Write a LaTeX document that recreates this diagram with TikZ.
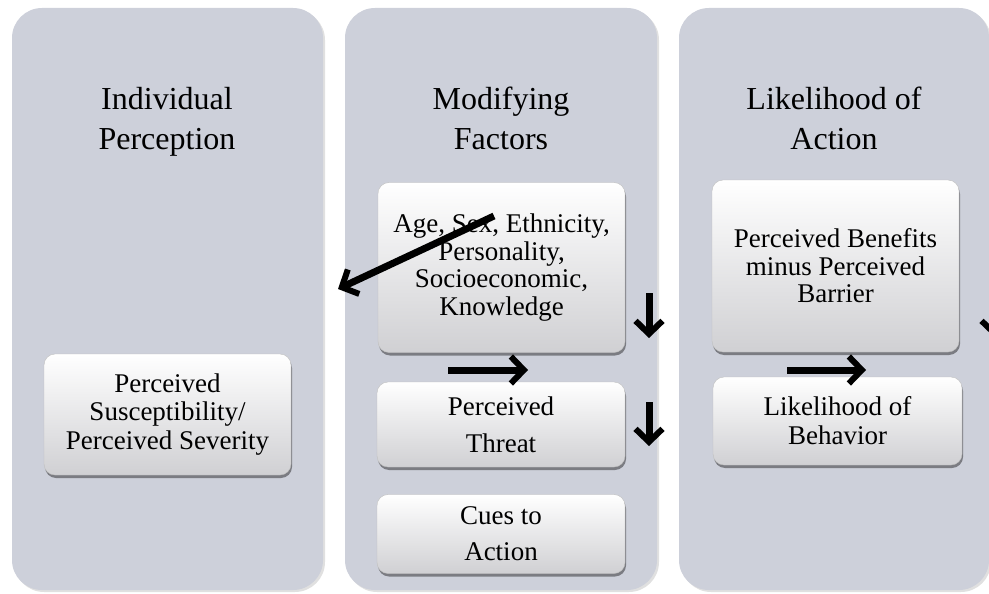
\documentclass[tikz,border=0pt]{standalone}
\usepackage{fontspec}
\setmainfont{Liberation Serif}
\usetikzlibrary{arrows.meta,shadows}
\definecolor{panelc}{HTML}{CDD0DA}
\definecolor{boxbot}{HTML}{D0D0D3}
\begin{document}
\begin{tikzpicture}[x=1pt,y=-1pt,
  panel/.style={rectangle, rounded corners=30pt, fill=panelc, draw=none,
    general shadow={shadow xshift=2pt, shadow yshift=-2pt, fill=black, opacity=0.12}},
  ttl/.style={align=center, font=\fontsize{32}{40}\selectfont, text=black},
  card/.style={rectangle, rounded corners=11pt, top color=white, bottom color=boxbot,
    draw=black!25, line width=0.4pt, align=center, text=black,
    general shadow={shadow xshift=1pt, shadow yshift=-3pt, fill=black, opacity=0.4}},
  arr/.style={draw=black, line width=7pt,
    -{Straight Barb[length=13pt,width=27pt,line width=6pt]}}
]
\useasboundingbox (0,0) rectangle (989,594);

% panels
\node[panel, minimum width=311pt, minimum height=582pt] (p1) at (167.5,299) {};
\node[panel, minimum width=312pt, minimum height=582pt] (p2) at (501,299) {};
\node[panel, minimum width=310pt, minimum height=582pt] (p3) at (834,299) {};

% titles
\node[ttl] (t1) at (167,122) {Individual\strut\\Perception\strut};
\node[ttl] (t2) at (501,122) {Modifying\strut\\Factors\strut};
\node[ttl] (t3) at (834,122) {Likelihood of\strut\\Action\strut};

% cards
\node[card, minimum width=247pt, minimum height=121pt, font=\fontsize{27}{28.5}\selectfont]
  (susc) at (167.5,414.5) {Perceived\\Susceptibility/\\Perceived Severity};
\node[card, minimum width=247pt, minimum height=170pt, font=\fontsize{27}{27.5}\selectfont]
  (age) at (501.5,267.5) {Age, Sex, Ethnicity,\\Personality,\\Socioeconomic,\\Knowledge};
\node[card, minimum width=248pt, minimum height=85pt, font=\fontsize{27}{37}\selectfont]
  (threat) at (501,424.5) {Perceived\\Threat};
\node[card, minimum width=248pt, minimum height=79pt, font=\fontsize{27}{36}\selectfont]
  (cues) at (501,534) {Cues to\\Action};
\node[card, minimum width=247pt, minimum height=172pt, font=\fontsize{27}{27.5}\selectfont]
  (benef) at (835.5,266) {Perceived Benefits\\minus Perceived\\Barrier};
\node[card, minimum width=249pt, minimum height=88pt, font=\fontsize{27}{29}\selectfont]
  (behav) at (837.5,421) {Likelihood of\\Behavior};

% arrow end points
\coordinate (d1s) at (494,216);  \coordinate (d1e) at (338,289);
\coordinate (v1s) at (649,293);  \coordinate (v1e) at (649,338);
\coordinate (h1s) at (448,370);  \coordinate (h1e) at (528,370);
\coordinate (v2s) at (649,402);  \coordinate (v2e) at (649,446);
\coordinate (h2s) at (787,370);  \coordinate (h2e) at (866,370);
\coordinate (v3s) at (995,293);  \coordinate (v3e) at (995,338);

\draw[arr] (d1s) -- (d1e);
\draw[arr] (v1s) -- (v1e);
\draw[arr] (h1s) -- (h1e);
\draw[arr] (v2s) -- (v2e);
\draw[arr] (h2s) -- (h2e);
\draw[arr] (v3s) -- (v3e);
\end{tikzpicture}
\end{document}
